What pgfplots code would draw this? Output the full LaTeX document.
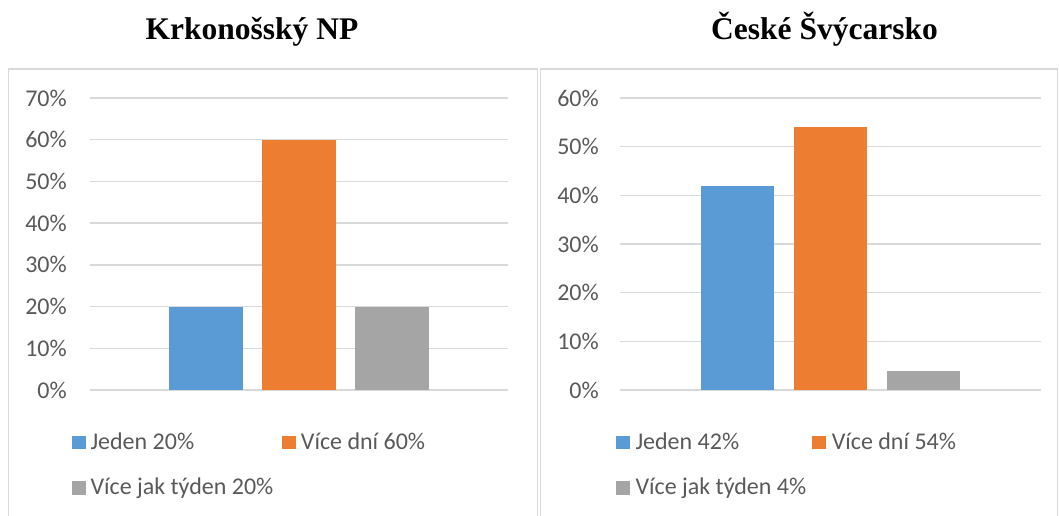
\documentclass[border=0pt]{standalone}
\usepackage{fontspec}
\setmainfont{Carlito}
\newfontfamily\titlefont{Liberation Serif}
\usepackage{pgfplots}
\pgfplotsset{compat=1.18}
\definecolor{cblue}{HTML}{5B9BD5}
\definecolor{corange}{HTML}{ED7D31}
\definecolor{cgray}{HTML}{A5A5A5}
\definecolor{gridc}{HTML}{D9D9D9}
\definecolor{txt}{HTML}{595959}
\pgfplotsset{
  sqleg/.style={legend image code/.code={\fill[##1] (0pt,0pt) rectangle (13.5pt,13.5pt);}},
  mybar/.style={
    scale only axis, height=292pt,
    ymin=0, enlargelimits=false,
    axis line style={draw=none}, tick style={draw=none}, xtick=\empty,
    ymajorgrids, major grid style={gridc, line width=1.4pt},
    yticklabel style={font=\fontsize{24}{28}\selectfont, text=txt, inner sep=0pt, anchor=east},
    legend columns=2,
    every axis plot post/.append style={sqleg},
    legend style={draw=none, fill=none, inner sep=0pt, outer sep=0pt, anchor=north west,
      font=\fontsize{24}{28}\selectfont, text=txt,
      nodes={inner sep=0pt, text height=14pt, text depth=5pt},
      cells={anchor=base west},
      row sep=26.5pt},
    title style={font=\titlefont\bfseries\fontsize{31.5}{36}\selectfont, anchor=base, inner sep=0pt, text=black},
  }
}
\begin{document}
\begin{tikzpicture}
\useasboundingbox (0pt,0pt) rectangle (1059pt,515pt);
\draw[gridc, line width=1.5pt] (8.5pt,-10pt) -- (8.5pt,446pt) -- (537.5pt,446pt) -- (537.5pt,-10pt);
\draw[gridc, line width=1.5pt] (540.5pt,-10pt) -- (540.5pt,446pt) -- (1057.5pt,446pt) -- (1057.5pt,-10pt);
\begin{axis}[mybar, at={(90pt,125pt)}, anchor=south west, width=418pt,
  xmin=0, xmax=418, ymax=70,
  ytick={0,10,20,30,40,50,60,70},
  yticklabels={0\%,10\%,20\%,30\%,40\%,50\%,60\%,70\%},
  yticklabel style={xshift=-23pt},
  ybar=19pt, bar width=74pt,
  title={Krkonošský NP},
  title style={at={(axis description cs:0.3876,1.18)}},
  legend style={at={(axis description cs:-0.04306,-0.15411)}, column sep=5pt,
    /tikz/column 2/.style={column sep=9pt}},
]
\addplot[fill=cblue, draw=none] coordinates {(209,20)};
\addlegendentry{Jeden 20\%}
\addplot[fill=corange, draw=none] coordinates {(209,60)};
\addlegendentry{Více dní 60\%}
\addplot[fill=cgray, draw=none] coordinates {(209,20)};
\addlegendentry{Více jak týden 20\%}
\end{axis}
\begin{axis}[mybar, at={(620pt,125pt)}, anchor=south west, width=421pt,
  xmin=0, xmax=421, ymax=60,
  ytick={0,10,20,30,40,50,60},
  yticklabels={0\%,10\%,20\%,30\%,40\%,50\%,60\%},
  yticklabel style={xshift=-21pt},
  ybar=20pt, bar width=73pt,
  title={České Švýcarsko},
  title style={at={(axis description cs:0.4857,1.18)}},
  legend style={at={(axis description cs:-0.0095,-0.15411)}, column sep=6pt,
    /tikz/column 2/.style={column sep=6pt}},
]
\addplot[fill=cblue, draw=none] coordinates {(210.5,42)};
\addlegendentry{Jeden 42\%}
\addplot[fill=corange, draw=none] coordinates {(210.5,54)};
\addlegendentry{Více dní 54\%}
\addplot[fill=cgray, draw=none] coordinates {(210.5,4)};
\addlegendentry{Více jak týden 4\%}
\end{axis}
\end{tikzpicture}
\end{document}
